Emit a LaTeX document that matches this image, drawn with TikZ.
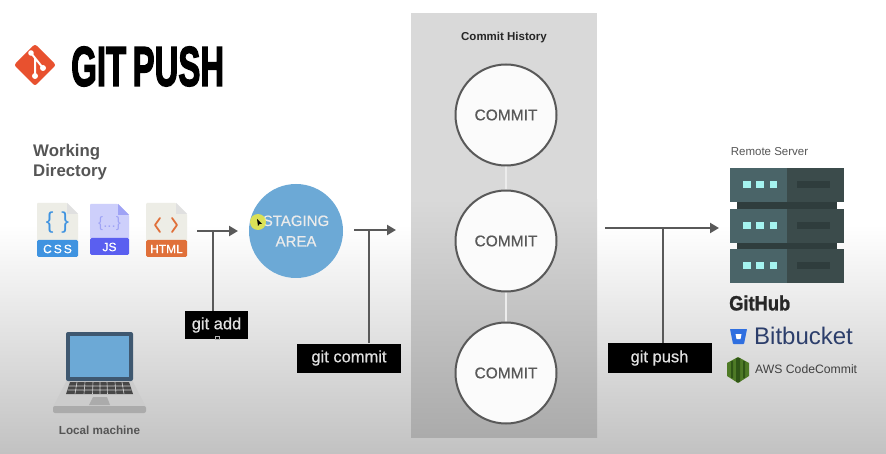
\documentclass[tikz,border=0pt]{standalone}
\usepackage{fontspec}
\usepackage{graphicx}
\setmainfont{Liberation Sans}
\newfontfamily\titlefont[FakeBold=3,WordSpace=0.7,BoldFont=*]{Liberation Sans Bold}
\newfontfamily\brandfont[FakeBold=1.2,BoldFont=*]{Liberation Sans Bold}
\newfontfamily\semifont[FakeBold=0.6]{Liberation Sans}
\usetikzlibrary{arrows.meta,shapes.geometric}
\definecolor{arrowgray}{HTML}{595959}
\definecolor{labelgray}{HTML}{555555}
\definecolor{stagingblue}{HTML}{6CA9D6}
\definecolor{paperfill}{HTML}{EDEDE6}
\definecolor{srvL}{HTML}{4A6468}
\definecolor{srvR}{HTML}{3B4B4B}
\definecolor{srvD}{HTML}{2F3D3D}
\definecolor{srvLed}{HTML}{A5F3F0}
\definecolor{cssblue}{HTML}{3F93E0}
\definecolor{jsblue}{HTML}{5A5FF0}
\definecolor{jslight}{HTML}{CDCFFB}
\definecolor{jsmid}{HTML}{9FA3F5}
\definecolor{htmlorange}{HTML}{E0703A}
\definecolor{logored}{HTML}{E8512F}
\definecolor{bbblue}{HTML}{2F6FE0}
\definecolor{bbtext}{HTML}{2C3E6B}
\definecolor{awsgreen}{HTML}{4E7A26}
\definecolor{awsdark}{HTML}{2F5516}
\definecolor{laptopbody}{HTML}{3F5870}
\definecolor{cursorhalo}{HTML}{E6E84A}
\tikzset{
  x=1pt,y=-1pt,
  cmd/.style={fill=black,text=white!88!black,inner sep=0pt,font=\semifont\fontsize{16.5}{18}\selectfont},
  commitc/.style={circle,draw=arrowgray,line width=2pt,fill=white!97!gray,minimum size=101pt,inner sep=0pt,text=arrowgray,font=\semifont\fontsize{15.5}{18}\selectfont},
  conn/.style={draw=arrowgray,line width=2.4pt},
  arr/.style={conn,-{Triangle[length=9pt,width=10pt]}},
  lbl/.style={inner sep=0pt,text=labelgray,font=\bfseries\fontsize{11.7}{13}\selectfont},
  band/.style={inner sep=0pt,text=white,font=\semifont\fontsize{12}{13}\selectfont},
  chev/.style={line width=1.8pt,line cap=round,line join=round}
}
\newcommand{\fileicon}[7]{% x, y top, width, height, body, band, fold
  \fill[#5,rounded corners=1pt] (#1,#2) -- (#1+#3-11,#2) -- (#1+#3,#2+11) -- (#1+#3,#2+#4-16) -- (#1,#2+#4-16) -- cycle;
  \fill[#7] (#1+#3-11,#2) -- (#1+#3,#2+11) -- (#1+#3-11,#2+11) -- cycle;
  \fill[#6,rounded corners=1.5pt] (#1,#2+#4-17) rectangle (#1+#3,#2+#4);
}
\newcommand{\serverunit}[1]{% y top
  \fill[srvL] (730,#1) rectangle (787,#1+34);
  \fill[srvR] (787,#1) rectangle (844,#1+34);
  \fill[srvLed] (743,#1+13.5) rectangle (751,#1+20.5);
  \fill[srvLed] (756,#1+13.5) rectangle (764,#1+20.5);
  \fill[srvLed] (770,#1+13.5) rectangle (777,#1+20.5);
  \fill[srvD] (797,#1+13.5) rectangle (830,#1+20.5);
}
\begin{document}
\begin{tikzpicture}
\useasboundingbox (0,0) rectangle (886,454);
% background
\fill[white] (0,0) rectangle (886,225);
\shade[top color=white,bottom color=black!24] (0,225) rectangle (886,454);
% panel
\fill[black!15] (411,13) rectangle (597,200);
\shade[top color=black!15,bottom color=black!33] (411,200) rectangle (597,437);
% title
\fill[logored,rounded corners=2.5pt] (35,44) -- (56,65) -- (35,86) -- (14,65) -- cycle;
\draw[white,line width=2pt] (31,53) -- (43,68) (35,58) -- (35,76);
\fill[white] (31,53) circle (2.8) (35,76) circle (3) (43,68) circle (3);
\node[anchor=west,inner sep=0pt] (title) at (71,66.5) {\resizebox{153pt}{39pt}{\titlefont GIT PUSH}};
% working directory
\node[lbl,anchor=north west,align=left,font=\bfseries\fontsize{16.8}{20.5}\selectfont] (wd) at (33,144) {Working\\Directory};
\fileicon{37}{203}{41}{54}{paperfill}{cssblue}{black!12}
\node[band] (csst) at (57.5,249) {C\,S\,S};
\node[inner sep=0pt,text=cssblue,font=\fontsize{23}{24}\selectfont] (cssb) at (57.5,223) {\{\,\,\}};
\fileicon{90}{204}{39}{51}{jslight}{jsblue}{jsmid}
\node[band] (jst) at (109.5,247) {JS};
\node[inner sep=0pt,text=jsmid,font=\fontsize{15}{16}\selectfont] (jsb) at (109.5,224) {\{...\}};
\fileicon{146}{203}{41}{54}{paperfill}{htmlorange}{black!12}
\node[band] (htmlt) at (166.5,249) {HTML};
\draw[chev,htmlorange] (160,218) -- (155,225) -- (160,232) (172,218) -- (177,225) -- (172,232);
% staging
\node[circle,fill=stagingblue,minimum size=94pt,inner sep=0pt,text=white!92!black,align=center,font=\semifont\fontsize{15}{20.5}\selectfont] (staging) at (296,231) {STAGING\\AREA};
\fill[cursorhalo,opacity=.9] (258,222) circle (8);
\fill[black] (257,219) -- (262,224) -- (259.5,224) -- (258,226) -- cycle;
% commits
\draw[draw=white!85!gray,line width=2.5pt] (506,160) -- (506,340);
\node[commitc] (c1) at (506,115) {COMMIT};
\node[commitc] (c2) at (506,241) {COMMIT};
\node[commitc] (c3) at (506,373) {COMMIT};
\node[inner sep=0pt,font=\bfseries\fontsize{11.5}{13}\selectfont,text=black!85] (hist) at (504,37.5) {Commit History};
% connector coordinates and arrows
\node[cmd,minimum width=63pt,minimum height=27pt] (gadd) at (216.5,325) {git add};
\node[cmd,minimum width=104pt,minimum height=29pt] (gcommit) at (349,358) {git commit};
\node[cmd,minimum width=104pt,minimum height=30pt] (gpush) at (659.5,358) {git push};
\draw[draw=white!70!black,line width=.8pt] (215,336.5) rectangle (219,339);
\coordinate (a1s) at (197,231);
\coordinate (a1e) at (238,231);
\coordinate (a1j) at (213,231);
\draw[arr] (a1s) -- (a1e);
\draw[conn] (a1j) -- (a1j |- gadd.north);
\coordinate (a2s) at (354,230);
\coordinate (a2e) at (396,230);
\coordinate (a2j) at (369,230);
\draw[arr] (a2s) -- (a2e);
\draw[conn] (a2j) -- (a2j |- gcommit.north);
\coordinate (a3s) at (605,228);
\coordinate (a3e) at (719,228);
\coordinate (a3j) at (663,228);
\draw[arr] (a3s) -- (a3e);
\draw[conn] (a3j) -- (a3j |- gpush.north);
% laptop
\fill[black!20] (67,380) -- (132,380) -- (146,407) -- (53,407) -- cycle;
\fill[black!33,rounded corners=2pt] (53,406) rectangle (146,413);
\fill[black!33] (93,397) -- (107,397) -- (110,405) -- (89,405) -- cycle;
\fill[black!72] (70,382) -- (129,382) -- (133,394) -- (66,394) -- cycle;
\draw[black!20,line width=.6pt] (68.5,386) -- (130.5,386) (67.5,390) -- (131.5,390)
  (77,382) -- (75,394) (85,382) -- (84,394) (93,382) -- (92.5,394) (100,382) -- (100,394) (107,382) -- (107.5,394) (115,382) -- (116,394) (122,382) -- (124,394);
\fill[laptopbody,rounded corners=2pt] (66,332) rectangle (133,381);
\fill[stagingblue] (70,336) rectangle (129,377);
\node[lbl] (local) at (99.5,430) {Local machine};
% server
\node[inner sep=0pt,text=labelgray,font=\fontsize{11.5}{13}\selectfont] (remote) at (769.5,152) {Remote Server};
\fill[srvD] (737,200) rectangle (837,255);
\serverunit{168}
\serverunit{209}
\serverunit{249}
% brands
\node[anchor=west,inner sep=0pt,text=black!85] (gh) at (729,303) {\resizebox{61pt}{15pt}{\brandfont GitHub}};
\fill[bbblue,rounded corners=.6pt] (730,329) -- (747,329) -- (744,344) -- (733,344) -- cycle;
\fill[white] (735.5,334) -- (741.5,334) -- (740.5,339) -- (736.5,339) -- cycle;
\node[anchor=west,inner sep=0pt,text=bbtext,font=\fontsize{24}{25}\selectfont] (bb) at (754,336) {Bitbucket};
\fill[awsgreen] (738,357) -- (749,363) -- (749,376) -- (738,383) -- (727,376) -- (727,363) -- cycle;
\fill[awsdark] (731,361) rectangle (733,378) (736,358) rectangle (740,382) (743,361) rectangle (745,378);
\node[anchor=west,inner sep=0pt,text=black!75,font=\fontsize{12.2}{15}\selectfont] (aws) at (755,369) {AWS CodeCommit};
\end{tikzpicture}
\end{document}
